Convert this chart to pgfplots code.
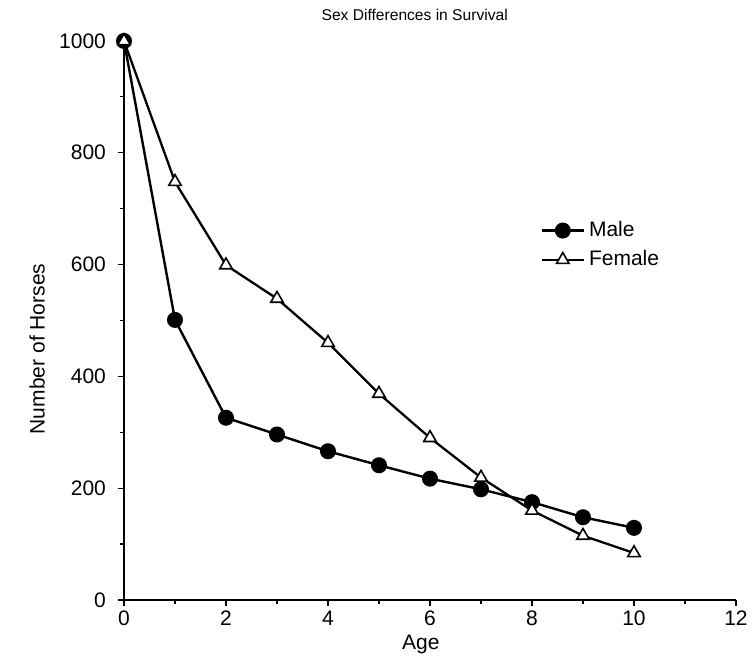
\documentclass[border=0pt]{standalone}
\usepackage{pgfplots}
\pgfplotsset{compat=1.18}
\usepackage{fontspec}
\setmainfont{Liberation Sans}
\begin{document}
\begin{tikzpicture}
\begin{axis}[
  scale only axis,
  width=306pt, height=279.5pt,
  xmin=0, xmax=12, ymin=0, ymax=1000,
  axis x line=bottom, axis y line=left,
  axis line style={-, line width=0.75pt},
  xtick={0,2,...,12}, ytick={0,200,...,1000},
  minor x tick num=1, minor y tick num=1,
  tick align=outside,
  major tick length=3pt, minor tick length=2pt,
  tick style={black, line width=0.6pt},
  /pgf/number format/assume math mode=true,
  /pgf/number format/1000 sep={},
  ticklabel style={font=\fontsize{10.5}{12}\selectfont},
  yticklabel style={xshift=-2.5pt},
  xticklabel style={yshift=1pt},
  xlabel={Age},
  xlabel style={at={(axis description cs:0.485,-0.08)}, anchor=center, font=\fontsize{10.5}{12}\selectfont},
  ylabel={Number of Horses},
  ylabel style={at={(axis description cs:-0.142,0.449)}, anchor=center, font=\fontsize{10.5}{12}\selectfont},
  clip=false,
  legend style={at={(axis description cs:0.68,0.685)}, anchor=north west, draw=none, fill=none,
     font=\fontsize{10.5}{12}\selectfont, row sep=1.5pt, inner sep=0pt},
  legend cell align=left,
  legend image code/.code={\draw[mark repeat=2,mark phase=2] plot coordinates {(0cm,0cm) (0.37cm,0cm) (0.74cm,0cm)};},
]
\addplot[black, line width=1.2pt, mark=*, mark size=3.4pt, mark options={solid, fill=black}]
coordinates {(0,1000) (1,501) (2,326) (3,296) (4,266) (5,241) (6,217) (7,198) (8,175) (9,148) (10,129)};
\addlegendentry{Male}
\addplot[black, line width=1.15pt, mark=triangle*, mark size=3.6pt, mark options={solid, fill=white, line width=0.8pt}]
coordinates {(0,1000) (1,748) (2,599) (3,539) (4,460) (5,369) (6,290) (7,219) (8,160) (9,115) (10,84)};
\addlegendentry{Female}
\node[font=\fontsize{7.8}{9}\selectfont, anchor=center] at (axis description cs:0.475,1.046) {Sex Differences in Survival};
\coordinate (bl) at (axis description cs:-0.2026,-0.1038);
\coordinate (tr) at (axis description cs:1.0278,1.0733);
\end{axis}
\pgfresetboundingbox
\path[use as bounding box] (bl) rectangle (tr);
\end{tikzpicture}
\end{document}
